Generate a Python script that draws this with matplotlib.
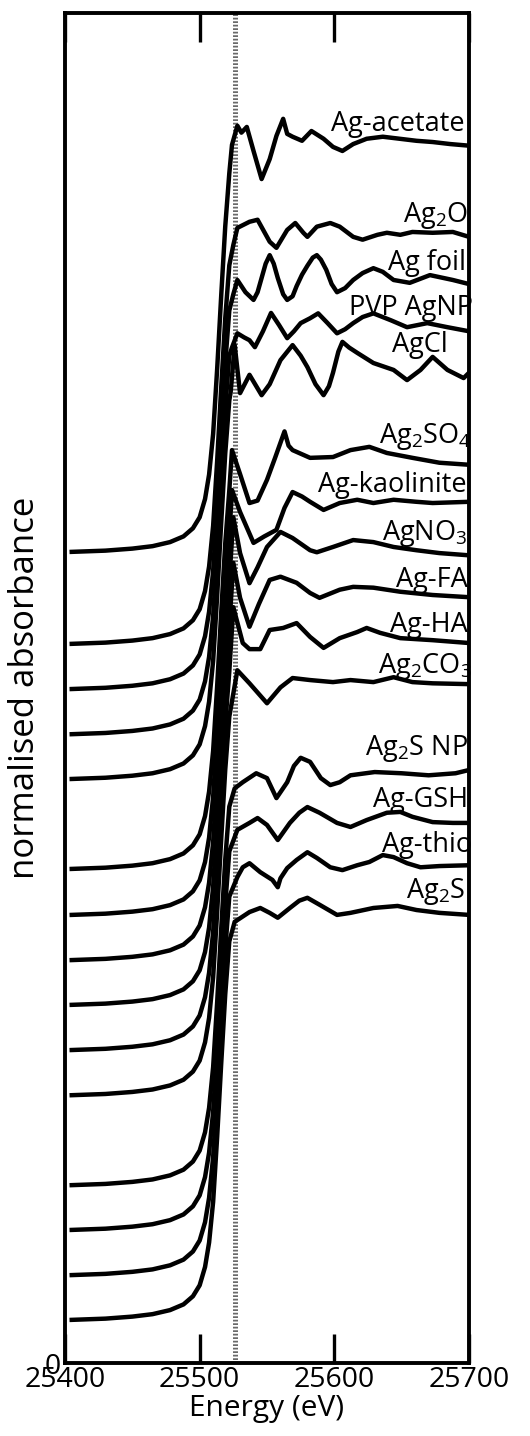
import matplotlib
matplotlib.use('Agg')
import matplotlib.pyplot as plt

plt.rcParams['font.family'] = ['Open Sans', 'DejaVu Sans']
plt.rcParams['mathtext.fontset'] = 'custom'
plt.rcParams['mathtext.rm'] = 'Open Sans'
plt.rcParams['mathtext.default'] = 'regular'

# ---------------- data (normalised absorbance) ----------------
# common pre-edge / edge profile (curves are indistinguishable inside the edge bundle)
EDGE_E = [25405, 25430, 25450, 25465, 25478, 25488, 25495, 25500, 25504, 25507, 25510, 25513, 25516, 25519, 25522]
EDGE_MU = [0.0, 0.003, 0.008, 0.014, 0.024, 0.038, 0.058, 0.085, 0.13, 0.19, 0.29, 0.45, 0.63, 0.80, 0.93]

ACETATE_E = [25524, 25528, 25531, 25535, 25540, 25546, 25552, 25557, 25562, 25565, 25569, 25576, 25583, 25592, 25599, 25606, 25614, 25624, 25636, 25661, 25673, 25686, 25700]
ACETATE_MU = [1.0, 1.047, 1.030, 1.044, 0.985, 0.916, 0.965, 1.022, 1.064, 1.027, 1.020, 1.010, 1.034, 1.015, 0.995, 0.985, 1.002, 1.015, 1.020, 1.010, 1.007, 1.002, 0.998]

AG2O_E = [25525, 25528, 25537, 25543, 25552, 25557, 25565, 25571, 25577, 25580, 25587, 25597, 25604, 25614, 25621, 25632, 25639, 25649, 25658, 25673, 25688, 25700]
AG2O_MU = [0.98, 1.022, 1.037, 1.042, 0.988, 0.973, 1.017, 1.034, 1.010, 1.000, 1.025, 1.034, 1.025, 1.000, 0.993, 1.005, 1.010, 1.005, 1.012, 1.010, 1.012, 1.000]

FOIL_E = [25525, 25528, 25534, 25540, 25543, 25546, 25549, 25552, 25555, 25558, 25562, 25565, 25569, 25572, 25576, 25580, 25584, 25587, 25590, 25594, 25598, 25602, 25608, 25614, 25621, 25629, 25636, 25644, 25656, 25671, 25688, 25700]
FOIL_MU = [0.97, 1.005, 0.975, 0.956, 0.975, 1.010, 1.045, 1.066, 1.045, 1.010, 0.970, 0.956, 0.965, 0.990, 1.018, 1.040, 1.060, 1.066, 1.055, 1.030, 0.995, 0.975, 0.985, 1.005, 1.022, 1.034, 1.025, 1.005, 0.998, 1.017, 1.005, 0.995]

PVP_E = [25524, 25528, 25533, 25537, 25541, 25547, 25553, 25559, 25565, 25570, 25575, 25582, 25588, 25595, 25602, 25608, 25614, 25621, 25629, 25642, 25654, 25669, 25684, 25700]
PVP_MU = [0.95, 0.985, 0.975, 0.968, 0.951, 0.990, 1.035, 1.005, 0.973, 0.990, 1.010, 1.022, 1.034, 1.010, 0.985, 0.995, 1.010, 1.025, 1.034, 1.017, 1.000, 1.010, 1.000, 0.990]

AGCL_E = [25523, 25526, 25530, 25537, 25546, 25552, 25560, 25569, 25575, 25580, 25586, 25592, 25596, 25599, 25603, 25606, 25611, 25617, 25629, 25644, 25654, 25664, 25673, 25684, 25696, 25700]
AGCL_MU = [0.95, 1.066, 0.948, 0.993, 0.943, 0.970, 1.029, 1.066, 1.040, 1.012, 0.970, 0.943, 0.965, 0.998, 1.050, 1.074, 1.060, 1.047, 1.022, 1.005, 0.980, 1.005, 1.037, 1.005, 0.985, 0.998]

AG2SO4_E = [25524, 25530, 25537, 25543, 25550, 25556, 25563, 25566, 25569, 25582, 25599, 25612, 25626, 25639, 25658, 25678, 25700]
AG2SO4_MU = [1.029, 0.970, 0.899, 0.905, 0.956, 1.010, 1.075, 1.040, 1.029, 1.010, 1.012, 1.029, 1.037, 1.022, 1.010, 0.998, 0.993]

KAOL_E = [25524, 25530, 25540, 25548, 25557, 25563, 25569, 25576, 25582, 25592, 25604, 25617, 25629, 25644, 25661, 25673, 25700]
KAOL_MU = [1.044, 0.990, 0.914, 0.930, 0.946, 1.000, 1.039, 1.028, 1.015, 0.995, 1.012, 1.020, 1.012, 1.020, 1.015, 1.012, 1.015]

AGNO3_E = [25525, 25530, 25537, 25543, 25550, 25560, 25569, 25582, 25587, 25599, 25614, 25629, 25644, 25661, 25678, 25698]
AGNO3_MU = [1.088, 1.000, 0.926, 0.965, 1.015, 1.052, 1.037, 1.007, 1.002, 1.015, 1.032, 1.027, 1.015, 1.007, 1.000, 0.995]

AGFA_E = [25525, 25530, 25537, 25544, 25552, 25560, 25572, 25582, 25589, 25604, 25614, 25629, 25649, 25673, 25698]
AGFA_MU = [1.086, 1.000, 0.929, 0.985, 1.044, 1.052, 1.037, 1.012, 1.000, 1.020, 1.027, 1.025, 1.015, 1.007, 1.002]

AGHA_E = [25525, 25532, 25537, 25545, 25552, 25562, 25572, 25582, 25592, 25604, 25617, 25624, 25634, 25649, 25673, 25700]
AGHA_MU = [1.088, 1.000, 0.985, 0.985, 1.032, 1.037, 1.049, 1.015, 0.988, 1.012, 1.027, 1.037, 1.025, 1.012, 1.007, 1.000]

AG2CO3_E = [25528, 25537, 25550, 25560, 25569, 25582, 25599, 25612, 25629, 25644, 25658, 25673, 25700]
AG2CO3_MU = [1.044, 1.012, 0.963, 1.002, 1.025, 1.020, 1.015, 1.020, 1.015, 1.027, 1.015, 1.012, 1.010]

AG2SNP_E = [25526, 25532, 25542, 25550, 25557, 25565, 25570, 25575, 25582, 25590, 25597, 25604, 25612, 25630, 25650, 25670, 25690, 25700]
AG2SNP_MU = [0.975, 0.990, 1.012, 1.000, 0.951, 0.990, 1.030, 1.050, 1.040, 1.000, 0.983, 0.990, 1.007, 1.015, 1.012, 1.007, 1.012, 1.020]

GSH_E = [25528, 25537, 25543, 25550, 25558, 25567, 25574, 25580, 25589, 25602, 25612, 25624, 25639, 25649, 25658, 25673, 25688, 25700]
GSH_MU = [0.983, 1.000, 1.012, 0.995, 0.958, 1.000, 1.025, 1.039, 1.025, 1.000, 0.990, 1.007, 1.025, 1.027, 1.015, 1.002, 1.000, 1.000]

THIO_E = [25528, 25532, 25537, 25545, 25554, 25558, 25560, 25565, 25572, 25580, 25587, 25597, 25606, 25617, 25626, 25636, 25644, 25654, 25664, 25678, 25700]
THIO_MU = [0.978, 1.002, 1.012, 0.990, 0.971, 0.953, 0.975, 1.000, 1.020, 1.039, 1.025, 1.002, 0.995, 1.007, 1.015, 1.032, 1.027, 1.012, 1.002, 1.005, 1.007]

AG2S_E = [25526, 25537, 25545, 25552, 25558, 25567, 25574, 25580, 25589, 25602, 25612, 25629, 25647, 25661, 25678, 25700]
AG2S_MU = [0.978, 1.002, 1.012, 1.000, 0.988, 1.012, 1.030, 1.037, 1.020, 0.995, 1.000, 1.012, 1.017, 1.007, 1.000, 0.995]

LABELS = ['Ag-acetate', 'Ag$_2$O', 'Ag foil', 'PVP AgNP', 'AgCl', 'Ag$_2$SO$_4$', 'Ag-kaolinite',
          'AgNO$_3$', 'Ag-FA', 'Ag-HA', 'Ag$_2$CO$_3$', 'Ag$_2$S NP', 'Ag-GSH', 'Ag-thio', 'Ag$_2$S']
OFFSETS = [1.993, 1.767, 1.656, 1.545, 1.435, 1.214, 1.101, 0.990, 0.880, 0.769, 0.658, 0.437, 0.327, 0.216, 0.106]
SERIES = [(ACETATE_E, ACETATE_MU), (AG2O_E, AG2O_MU), (FOIL_E, FOIL_MU), (PVP_E, PVP_MU), (AGCL_E, AGCL_MU),
          (AG2SO4_E, AG2SO4_MU), (KAOL_E, KAOL_MU), (AGNO3_E, AGNO3_MU), (AGFA_E, AGFA_MU), (AGHA_E, AGHA_MU),
          (AG2CO3_E, AG2CO3_MU), (AG2SNP_E, AG2SNP_MU), (GSH_E, GSH_MU), (THIO_E, THIO_MU), (AG2S_E, AG2S_MU)]
EDGE_MARK = 25526.5

# label placement (right edge energy, baseline value)
LABEL_X = [25697, 25699, 25698, 25703, 25684, 25702, 25698, 25699, 25699, 25699, 25702, 25699, 25699, 25702, 25697]
LABEL_Y = [3.027, 2.803, 2.686, 2.575, 2.484, 2.260, 2.140, 2.022, 1.907, 1.796, 1.695, 1.494, 1.366, 1.256, 1.143]

# ---------------- figure ----------------
fig = plt.figure(figsize=(5.30, 14.36), dpi=100)
ax = fig.add_axes([65 / 530, 73 / 1436, 404 / 530, 1350 / 1436])

ax.axvline(EDGE_MARK, color='#6a6a6a', lw=3.6, ls=(0, (0.35, 0.35)), zorder=1)

for (pe, pm), off in zip(SERIES, OFFSETS):
    e = EDGE_E + pe
    m = EDGE_MU + pm
    ax.plot(e, [v + off for v in m], color='black', lw=3.2, solid_joinstyle='round', zorder=3)

for lab, lx, ly in zip(LABELS, LABEL_X, LABEL_Y):
    ax.text(lx, ly, lab, ha='right', va='baseline', fontsize=19.5, zorder=4)

ax.set_xlim(25400, 25700)
ax.set_ylim(0, 3.317)
ax.set_xticks([25400, 25500, 25600, 25700])
ax.set_yticks([0])
ax.tick_params(axis='x', direction='in', length=21, width=2.4, top=True, labelsize=20.5, pad=2)
ax.tick_params(axis='y', direction='in', length=0, labelsize=20.5, pad=3)
for s in ax.spines.values():
    s.set_linewidth(2.8)

ax.set_xlabel('Energy (eV)', fontsize=21.5, labelpad=0)
ax.set_ylabel('normalised absorbance', fontsize=25, labelpad=2)

fig.savefig('out.png', dpi=100)
